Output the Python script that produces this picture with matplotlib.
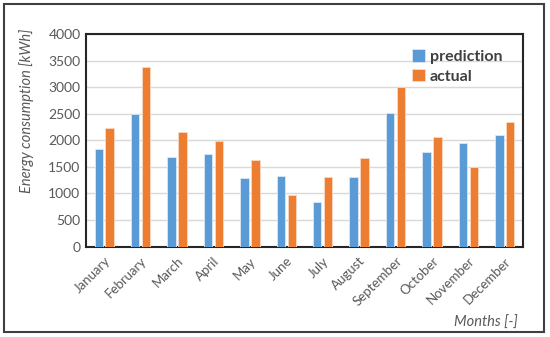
import matplotlib.pyplot as plt
import matplotlib.patches as mpatches
import numpy as np

months = ['January', 'February', 'March', 'April', 'May', 'June', 'July',
          'August', 'September', 'October', 'November', 'December']
prediction = [1830, 2500, 1680, 1740, 1295, 1330, 840, 1305, 2510, 1770, 1955, 2095]
actual = [2235, 3370, 2155, 1985, 1625, 965, 1300, 1665, 2995, 2060, 1500, 2350]
yticks = [0, 500, 1000, 1500, 2000, 2500, 3000, 3500, 4000]

plt.rcParams['font.family'] = ['Lato', 'DejaVu Sans']
txt = '#595959'

fig = plt.figure(figsize=(5.5, 3.37), dpi=100)
ax = fig.add_axes([86 / 550, 1 - 246.5 / 337, 437 / 550, 212.5 / 337])

x = np.arange(len(months))
w = 0.23
ax.bar(x - 0.15, prediction, w, color='#5B9BD5', edgecolor='#dbe8f5', linewidth=0.6,
       label='prediction', zorder=3)
ax.bar(x + 0.15, actual, w, color='#ED7D31', edgecolor='#f9d9c4', linewidth=0.6,
       label='actual', zorder=3)

ax.set_xlim(-0.5, len(months) - 0.5)
ax.set_ylim(0, 4000)
ax.set_yticks(yticks)
ax.set_yticklabels([str(v) for v in yticks], fontsize=10, color=txt)
ax.set_xticks(x)
ax.set_xticklabels(months, rotation=45, ha='right', rotation_mode='anchor',
                   fontsize=9.5, color=txt)
ax.tick_params(length=0, pad=4)
ax.tick_params(axis='x', pad=6)
ax.grid(axis='y', color='#d9d9d9', linewidth=1, zorder=0)
for s in ax.spines.values():
    s.set_color('#262626')
    s.set_linewidth(1.5)

# axis titles placed like the Excel original
fig.text(27 / 550, 1 - 111 / 337, 'Energy consumption [kWh]', rotation=90,
         ha='center', va='center', fontsize=10.5, style='italic', color=txt)
fig.text(518 / 550, 1 - 323 / 337, 'Months [-]', ha='right', va='center',
         fontsize=10.5, style='italic', color=txt)

leg = ax.legend(loc='upper right', bbox_to_anchor=(0.985, 0.995), frameon=False,
                prop={'size': 11.5, 'weight': 'bold'}, handlelength=0.8,
                handleheight=0.8, handletextpad=0.3, labelspacing=0.3)
for t in leg.get_texts():
    t.set_color('#404040')

fig.patches.append(mpatches.Rectangle((4 / 550, 1 - 332 / 337), 540 / 550, 328 / 337,
                                      transform=fig.transFigure, fill=False,
                                      edgecolor='#404040', linewidth=1.5))

fig.savefig('out.png', dpi=100)
